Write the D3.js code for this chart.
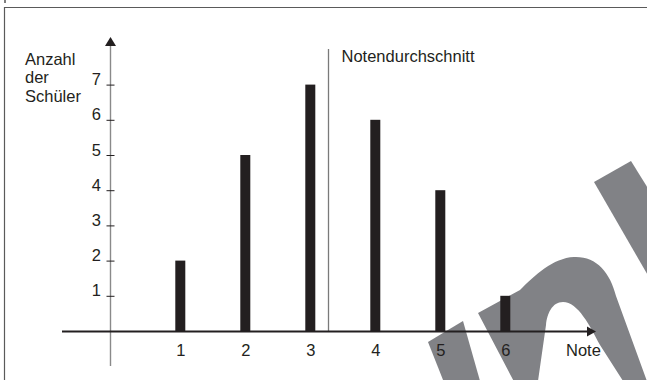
<!DOCTYPE html>
<html>
<head>
<meta charset="utf-8">
<script src="https://cdn.jsdelivr.net/npm/d3@7"></script>
<style>
  html, body { margin: 0; padding: 0; background: #ffffff; }
  svg { display: block; }
  text { font-family: "Liberation Sans", Arial, Helvetica, sans-serif; fill: #231f20; }
</style>
</head>
<body>
<svg id="chart" width="647" height="380"></svg>
<script>
// ---- data ----
const noten = [1, 2, 3, 4, 5, 6];
const anzahl = [2, 5, 7, 6, 4, 1];
const yTicks = [1, 2, 3, 4, 5, 6, 7];
const notendurchschnitt = 3.28;
const yTitle = ["Anzahl", "der", "Schüler"];
const xTitle = "Note";
const meanLabel = "Notendurchschnitt";

// ---- layout ----
const svg = d3.select("#chart");
const W = 647, H = 380;
const axisX = 110.5;   // pixel position of the vertical axis
const axisY = 331.5;   // pixel position of the horizontal axis
const ink = "#231f20";
const fs = "16.5px";

const x = d3.scaleLinear().domain([1, 6]).range([180.3, 505.3]);
const y = d3.scaleLinear().domain([0, 7]).range([331, 84.6]);

// frame
svg.append("rect").attr("x", 0).attr("y", 0).attr("width", W).attr("height", H).attr("fill", "#fff");
svg.append("path").attr("d", "M4.5,382 V7.5 H650").attr("fill", "none").attr("stroke", "#5a5a5a").attr("stroke-width", 1.2);
svg.append("line").attr("x1", 5).attr("x2", 5).attr("y1", 0).attr("y2", 3).attr("stroke", "#555").attr("stroke-width", 1.5);

// watermark (decorative, behind the chart)
const wm = "#818286";
const wmg = svg.append("g").attr("fill", wm);
wmg.append("path").attr("d", "M428,342 L463,321 L484,395 L449,395 Z");
wmg.append("path").attr("d", "M594,182 L631,161 L767,380 L717,395 Z");
wmg.append("path").attr("d",
  "M478,313 L520,290 C535,275 553,258 574,257 C596,256 610,272 616,296 L652,395 L632,395 L600,345 " +
  "C590,326 578,302 563,302 C552,302 547,314 546,325 L536,395 L521,395 Z");

// mean line
svg.append("line")
  .attr("x1", x(notendurchschnitt)).attr("x2", x(notendurchschnitt))
  .attr("y1", 49).attr("y2", axisY)
  .attr("stroke", "#7a7a7a").attr("stroke-width", 1.3);
svg.append("text")
  .attr("x", x(notendurchschnitt) + 13).attr("y", 61.5)
  .style("font-size", fs).text(meanLabel);

// bars
const barW = 10;
svg.append("g").selectAll("rect").data(noten).join("rect")
  .attr("x", d => x(d) - barW / 2)
  .attr("y", (d, i) => y(anzahl[i]))
  .attr("width", barW)
  .attr("height", (d, i) => axisY - y(anzahl[i]))
  .attr("fill", ink);

// y axis line (gray) + arrow
svg.append("line").attr("x1", axisX).attr("x2", axisX).attr("y1", 44).attr("y2", 366)
  .attr("stroke", "#8a8a8a").attr("stroke-width", 1.4);
svg.append("path").attr("d", `M${axisX},37 L${axisX + 5.5},46 L${axisX - 5.5},46 Z`).attr("fill", ink);

// y ticks via d3 axis
const gy = svg.append("g").attr("transform", `translate(${axisX},0)`)
  .call(d3.axisLeft(y).tickValues(yTicks).tickSize(4).tickFormat(d3.format("d")));
gy.select(".domain").remove();
gy.selectAll(".tick line").attr("x1", 4).attr("x2", -4).attr("stroke", ink).attr("stroke-width", 1);
gy.selectAll(".tick text").attr("x", -9.5).attr("dy", "0").attr("fill", ink)
  .style("font-size", fs).style("font-family", "Liberation Sans, Arial, sans-serif");

// x axis line + arrow
svg.append("line").attr("x1", 62).attr("x2", 589).attr("y1", axisY).attr("y2", axisY)
  .attr("stroke", ink).attr("stroke-width", 2);
svg.append("path").attr("d", `M596,${axisY} L587,${axisY - 5} L587,${axisY + 5} Z`).attr("fill", ink);

// x tick labels via d3 axis
const gx = svg.append("g").attr("transform", `translate(0,${axisY})`)
  .call(d3.axisBottom(x).tickValues(noten).tickSize(0).tickFormat(d3.format("d")));
gx.select(".domain").remove();
gx.selectAll(".tick line").remove();
gx.selectAll(".tick text").attr("y", 24).attr("dy", "0").attr("fill", ink)
  .style("font-size", fs).style("font-family", "Liberation Sans, Arial, sans-serif");

// axis titles
svg.append("text").attr("x", 566).attr("y", 355.5).style("font-size", fs).text(xTitle);
svg.append("g").selectAll("text").data(yTitle).join("text")
  .attr("x", 25).attr("y", (d, i) => 65 + i * 18.3)
  .style("font-size", fs).text(d => d);
</script>
</body>
</html>
